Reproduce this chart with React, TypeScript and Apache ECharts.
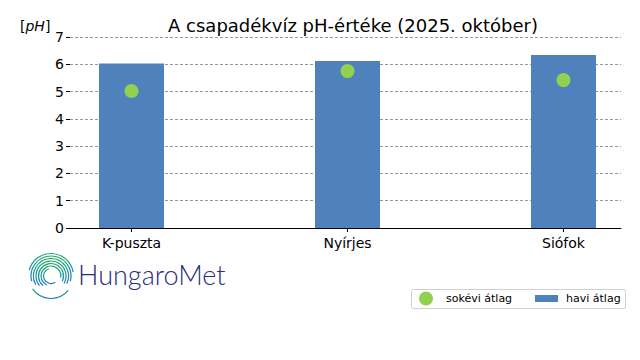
import React, { useEffect, useRef } from "react";
import * as echarts from "echarts";

const categories = ["K-puszta", "Nyírjes", "Siófok"];
const monthlyAvg = [6.03, 6.12, 6.34];
const longTermAvg = [5.02, 5.75, 5.42];

const BAR = "#4f81bd";
const DOT = "#92d050";
const FONT = "DejaVu Sans";

function arc(cx: number, cy: number, r: number, s: number, e: number) {
  return {
    type: "arc",
    shape: { cx, cy, r, startAngle: (s * Math.PI) / 180, endAngle: (e * Math.PI) / 180, clockwise: true },
    style: {
      fill: "none",
      lineWidth: 1.2,
      stroke: new echarts.graphic.LinearGradient(0, 0, 0, 1, [
        { offset: 0, color: "#1fa866" },
        { offset: 0.45, color: "#159a96" },
        { offset: 1, color: "#2474bb" },
      ]),
    },
    silent: true,
  };
}

function logoArcs() {
  const cx = 51, cy = 276;
  const out: any[] = [];
  const rings = [
    { r: 22.5, s: 195, e: 350 },
    { r: 20, s: 165, e: 375 },
    { r: 17.5, s: 150, e: 385 },
    { r: 15, s: 140, e: 390 },
    { r: 12.5, s: 130, e: 385 },
    { r: 10, s: 115, e: 370 },
  ];
  rings.forEach((g) => out.push(arc(cx, cy, g.r, g.s, g.e)));
  out.push(arc(cx, cy, 22.5, 40, 145));
  out.push(arc(cx, cy, 7.5, 55, 255));
  return out;
}

export default function App() {
  const ref = useRef<HTMLDivElement>(null);
  useEffect(() => {
    if (!ref.current) return;
    const chart = echarts.init(ref.current, null, { renderer: "svg" });
    chart.setOption({
      animation: false,
      backgroundColor: "#ffffff",
      textStyle: { fontFamily: FONT },
      title: {
        text: "A csapadékvíz pH-értéke (2025. október)",
        left: 348,
        textAlign: "center",
        top: 11,
        textStyle: { fontFamily: FONT, fontSize: 18, fontWeight: "normal", color: "#000" },
      },
      grid: [
        { left: 70, right: 19, top: 37, bottom: 132, containLabel: false },
        { left: 131.5, right: 76.5, top: 37, bottom: 132, containLabel: false },
      ],
      xAxis: [
        {
          type: "value",
          gridIndex: 0,
          min: 0,
          max: 1,
          splitLine: { show: false },
          axisLine: { show: true, lineStyle: { color: "#000", width: 1 } },
          axisTick: { show: false },
          axisLabel: { show: false },
        },
        {
          type: "category",
          gridIndex: 1,
          data: categories,
          boundaryGap: false,
          axisLine: { show: false },
          axisTick: { show: true, length: 4, lineStyle: { color: "#000" } },
          axisLabel: { color: "#000", fontSize: 14, fontFamily: FONT, margin: 8, interval: 0 },
          splitLine: { show: false },
        },
      ],
      yAxis: [
        {
          type: "value",
          gridIndex: 0,
          min: 0,
          max: 7,
          interval: 1,
          axisLine: { show: false },
          axisTick: { show: true, length: 4, lineStyle: { color: "#000" } },
          axisLabel: { color: "#000", fontSize: 14, fontFamily: FONT, margin: 6 },
          splitLine: { show: true, lineStyle: { color: "#808080", type: [3, 2], width: 0.8 } },
        },
        {
          type: "value",
          gridIndex: 1,
          min: 0,
          max: 7,
          interval: 1,
          show: false,
          splitLine: { show: false },
        },
      ],
      series: [
        {
          name: "havi átlag",
          type: "bar",
          xAxisIndex: 1,
          yAxisIndex: 1,
          barWidth: 65,
          itemStyle: { color: BAR },
          data: monthlyAvg,
          z: 2,
        },
        {
          name: "sokévi átlag",
          type: "scatter",
          xAxisIndex: 1,
          yAxisIndex: 1,
          symbol: "circle",
          symbolSize: 14,
          itemStyle: { color: DOT, opacity: 1 },
          data: longTermAvg,
          z: 3,
        },
      ],
      graphic: [
        {
          type: "text",
          left: 20,
          top: 19,
          style: {
            text: "[{i|pH}]",
            fontFamily: FONT,
            fontSize: 14,
            fill: "#000",
            rich: { i: { fontStyle: "italic", fontFamily: FONT, fontSize: 14 } },
          },
        },
        ...logoArcs(),
        {
          type: "text",
          left: 78,
          top: 261,
          style: { text: "HungaroMet", fontFamily: "Lato", fontSize: 27, fontWeight: 300, fill: "#2a2d7c" },
        },
        {
          type: "rect",
          shape: { x: 411.5, y: 289.5, width: 214, height: 19, r: 2 },
          style: { fill: "#fff", stroke: "#d0d0d0", lineWidth: 1 },
        },
        { type: "circle", shape: { cx: 426, cy: 298.5, r: 7 }, style: { fill: DOT } },
        {
          type: "text",
          x: 446,
          y: 298.5,
          style: { text: "sokévi átlag", fontFamily: FONT, fontSize: 11, fill: "#000", verticalAlign: "middle" },
        },
        { type: "rect", shape: { x: 535, y: 295, width: 23, height: 7 }, style: { fill: BAR } },
        {
          type: "text",
          x: 566,
          y: 298.5,
          style: { text: "havi átlag", fontFamily: FONT, fontSize: 11, fill: "#000", verticalAlign: "middle" },
        },
      ],
    });
    return () => chart.dispose();
  }, []);
  return <div ref={ref} style={{ width: 640, height: 360, position: "absolute", left: 0, top: 0 }} />;
}
